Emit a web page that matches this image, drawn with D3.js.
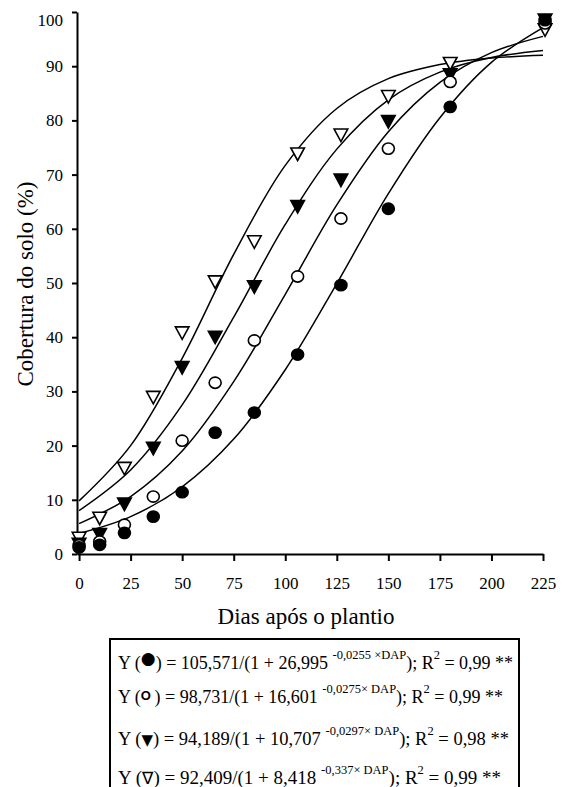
<!DOCTYPE html>
<meta charset="utf-8">

<script src="https://d3js.org/d3.v7.min.js"></script>

<style type="text/css">
body { margin: 0; background: #fff; }
svg text { font-family: "Liberation Serif", "Times New Roman", "DejaVu Serif", serif; fill: #000; }
.axis path, .axis line { stroke: #000; stroke-width: 2; }
.curve { fill: none; stroke: #000; stroke-width: 1.5; }
.leg text { white-space: pre; }
</style>

<body>
</body>

<script>

// dias apos o plantio (observed points)
var dias = [0, 10, 22, 36, 50, 66, 85, 106, 127, 150, 180, 226];

// cobertura do solo (%) per treatment
var circCheio  = [1.2, 1.7, 3.9, 6.9, 11.4, 22.4, 26.1, 36.8, 49.6, 63.7, 82.5, 98.5];
var circAberto = [1.6, 2.3, 5.4, 10.6, 20.9, 31.6, 39.4, 51.2, 61.9, 74.8, 87.1, 97.9];
var triCheio   = [1.8, 3.6, 9.2, 19.5, 34.4, 40.0, 49.3, 64.1, 69.0, 79.8, 88.4, 98.5];
var triAberto  = [2.9, 6.6, 15.8, 28.9, 40.8, 50.2, 57.6, 73.8, 77.3, 84.4, 90.5, 96.7];

// fitted curves, every 25 days
var diasAjuste = [0, 25, 50, 75, 100, 125, 150, 175, 200, 225];
var ajCircCheio  = [3.8, 6.9, 12.4, 21.2, 34.0, 49.9, 66.5, 80.5, 90.7, 97.1];
var ajCircAberto = [5.6, 10.6, 19.0, 31.8, 47.9, 64.4, 77.9, 87.0, 92.5, 95.5];
var ajTriCheio   = [8.0, 15.5, 27.5, 43.7, 60.8, 74.7, 83.8, 88.9, 91.6, 92.9];
var ajTriAberto  = [9.8, 20.0, 36.1, 55.3, 71.7, 82.2, 87.7, 90.3, 91.5, 92.0];

var xTicks = [0, 25, 50, 75, 100, 125, 150, 175, 200, 225];
var yTicks = [0, 10, 20, 30, 40, 50, 60, 70, 80, 90, 100];

// legend equations
var legMarca = ["\u25cf", "O", "\u25bc", "\u2207"];
var legA = ["105,571", "98,731", "94,189", "92,409"];
var legB = ["26,995", "16,601", "10,707", "8,418"];
var legExp = ["-0,0255 \u00d7DAP", "-0,0275\u00d7 DAP", "-0,0297\u00d7 DAP", "-0,337\u00d7 DAP"];
var legR2 = ["0,99", "0,99", "0,98", "0,99"];

var serif = "'Liberation Serif', 'Times New Roman', 'DejaVu Serif', serif";
var width = 564, height = 787;

var svg = d3.select("body").append("svg")
  .attr("width", width)
  .attr("height", height)
  .attr("font-family", serif)
  .style("font-family", serif);

var xScale = d3.scaleLinear().domain([-1, 225]).range([77, 543]);
var yScale = d3.scaleLinear().domain([0, 100]).range([554, 12]);

// axes
var xAxis = d3.axisBottom(xScale)
  .tickValues(xTicks)
  .tickSize(7)
  .tickSizeOuter(0)
  .tickPadding(16);

var yAxis = d3.axisLeft(yScale)
  .tickValues(yTicks)
  .tickSize(5)
  .tickSizeOuter(0)
  .tickPadding(9);

svg.append("g")
  .attr("class", "x axis")
  .attr("transform", "translate(0," + yScale(0) + ")")
  .call(xAxis);

var yAxisGroup = svg.append("g")
  .attr("class", "y axis")
  .attr("transform", "translate(" + xScale(-1) + ",0)")
  .call(yAxis);

// top label sits a bit lower in the original
yAxisGroup.selectAll(".tick text")
  .filter(function(d) { return d === 100; })
  .attr("dy", "0.78em");

svg.selectAll(".axis")
  .attr("font-family", serif)
  .attr("font-size", 17);
svg.selectAll(".axis text")
  .style("font-family", serif)
  .style("font-size", "17px")
  .style("fill", "#000");

// axis titles
svg.append("text")
  .attr("x", 306)
  .attr("y", 624)
  .attr("text-anchor", "middle")
  .style("font-family", serif)
  .style("font-size", "23px")
  .text("Dias após o plantio");

svg.append("text")
  .attr("transform", "translate(33,284) rotate(-90)")
  .attr("text-anchor", "middle")
  .style("font-family", serif)
  .style("font-size", "23px")
  .text("Cobertura do solo (%)");

// fitted curves
var line = d3.line()
  .x(function(d) { return xScale(d[0]); })
  .y(function(d) { return yScale(d[1]); })
  .curve(d3.curveCatmullRom);

[ajCircCheio, ajCircAberto, ajTriCheio, ajTriAberto].forEach(function(aj) {
  svg.append("path")
    .attr("class", "curve")
    .attr("d", line(diasAjuste.map(function(d, i) { return [d, aj[i]]; })));
});

// observed points
var series = [
  { vals: triAberto,  shape: "tri", fill: "#fff" },
  { vals: triCheio,   shape: "tri", fill: "#000" },
  { vals: circAberto, shape: "circ", fill: "#fff" },
  { vals: circCheio,  shape: "circ", fill: "#000" }
];

series.forEach(function(s) {
  var pts = dias.map(function(d, i) { return { x: d, y: s.vals[i] }; });
  var g = svg.append("g");
  if (s.shape === "circ") {
    g.selectAll("ellipse")
      .data(pts)
      .enter().append("ellipse")
      .attr("cx", function(d) { return xScale(d.x); })
      .attr("cy", function(d) { return yScale(d.y); })
      .attr("rx", 6)
      .attr("ry", 5.6)
      .style("fill", s.fill)
      .style("stroke", "#000")
      .style("stroke-width", 1.6);
  } else {
    g.selectAll("path")
      .data(pts)
      .enter().append("path")
      .attr("d", "M-6.8,-6H6.8L0,6.5Z")
      .attr("transform", function(d) { return "translate(" + xScale(d.x) + "," + yScale(d.y) + ")"; })
      .style("fill", s.fill)
      .style("stroke", "#000")
      .style("stroke-width", 1.6);
  }
});

// legend box with equations
var leg = svg.append("g").attr("class", "leg");

leg.append("rect")
  .attr("x", 110)
  .attr("y", 639)
  .attr("width", 409)
  .attr("height", 200)
  .style("fill", "#fff")
  .style("stroke", "#000")
  .style("stroke-width", 2);

var baseLines = [669, 703, 745, 784];
var fontSizes = [18, 18, 18.5, 19];
var marcaStyle = [
  { font: "DejaVu Sans", size: 17, dy: -5 },
  { font: "Liberation Sans", size: 13, dy: -3, weight: "bold" },
  { font: "DejaVu Sans", size: 15, dy: 0 },
  { font: "DejaVu Sans", size: 17, dy: 0 }
];

legA.forEach(function(a, i) {
  var st = marcaStyle[i];
  var t = leg.append("text")
    .attr("x", 118)
    .attr("y", baseLines[i])
    .style("font-family", serif)
    .style("font-size", fontSizes[i] + "px");
  t.append("tspan").text("Y (");
  t.append("tspan")
    .attr("dy", st.dy)
    .style("font-family", st.font)
    .style("font-size", st.size + "px")
    .style("font-weight", st.weight || "normal")
    .text(legMarca[i] + (i === 1 ? " " : ""));
  t.append("tspan").attr("dy", -st.dy).text(") = " + a + "/(1 + " + legB[i] + " ");
  t.append("tspan").attr("dy", -10).style("font-size", "12.5px").text(legExp[i]);
  t.append("tspan").attr("dy", 10).text("); R");
  t.append("tspan").attr("dy", -10).style("font-size", "12.5px").text("2");
  t.append("tspan").attr("dy", 10).text(" = " + legR2[i] + " **");
});

</script>
